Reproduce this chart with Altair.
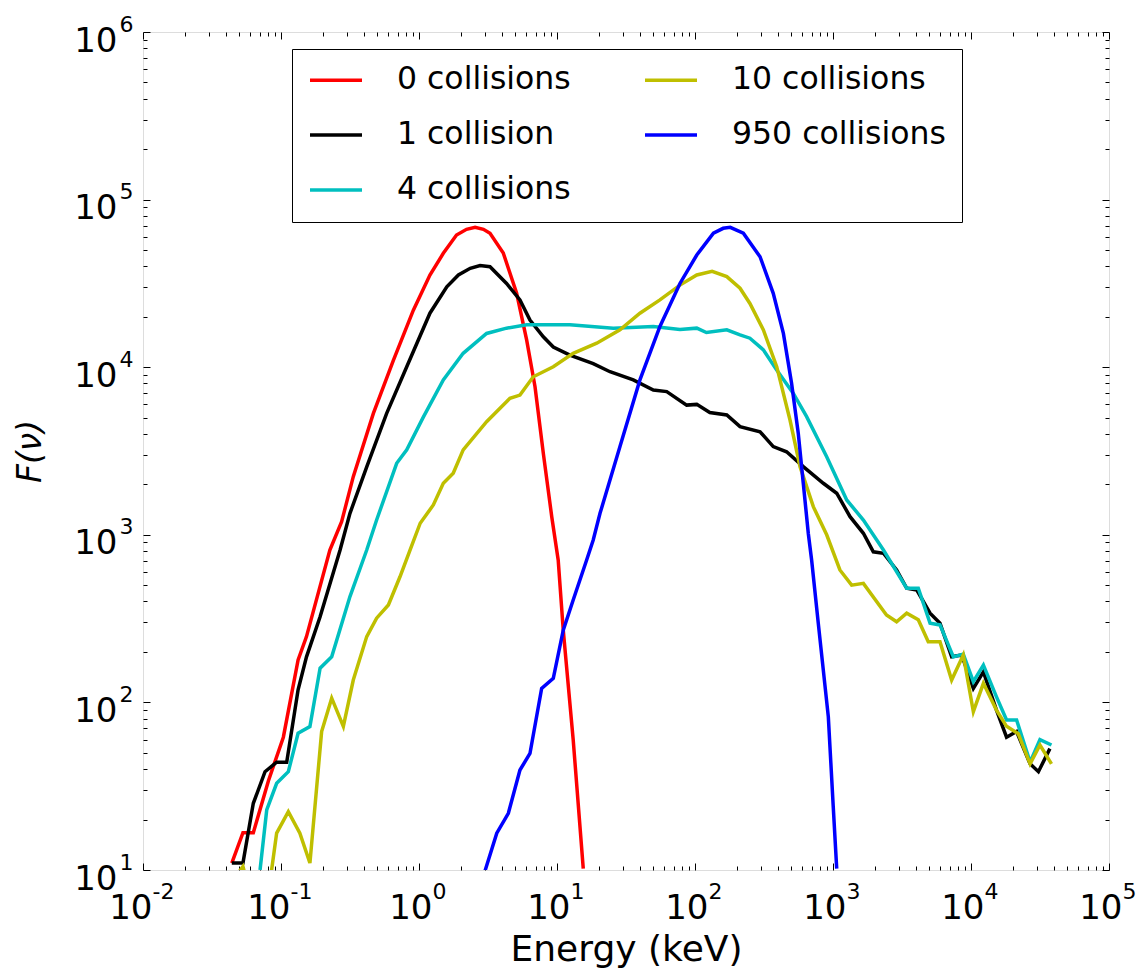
import math
import altair as alt
import pandas as pd

# ---------------- data ----------------
series_names = ["0 collisions", "1 collision", "4 collisions", "10 collisions", "950 collisions"]
series_colors = ["#ff0000", "#000000", "#00bfbf", "#bfbf00", "#0000ff"]

e_c0 = [0.044, 0.053, 0.063, 0.081, 0.104, 0.133, 0.153, 0.226, 0.275, 0.334, 0.467, 0.652,
        0.91, 1.20, 1.50, 1.87, 2.21, 2.55, 2.93, 3.27, 4.08, 5.1, 6.03, 6.93, 7.96, 9.16,
        10.2, 11.1, 13.1, 15.5]
f_c0 = [11, 16.7, 16.7, 34, 62, 179, 247, 811, 1197, 2222, 5300, 11000,
        21900, 35500, 47800, 61500, 66500, 68300, 66500, 63000, 48000, 27600, 14500, 7650, 3060, 1283,
        708, 270, 60, 10.2]

e_c1 = [0.044, 0.053, 0.063, 0.0766, 0.093, 0.11, 0.133, 0.153, 0.192, 0.268, 0.316, 0.418,
        0.583, 0.815, 1.2, 1.59, 1.93, 2.35, 2.77, 3.27, 4.31, 5.39, 6.37, 7.96, 9.4, 12.4,
        18.3, 24.2, 35.7, 49.9, 62.4, 87, 103, 128, 170, 212, 296, 369, 461, 609, 851, 1064,
        1329, 1660, 1960, 2320, 2890, 3420, 4040, 5050, 5960, 7240, 8560, 10400, 12300,
        15300, 18100, 21400, 26800, 30800, 37300]
f_c1 = [11, 11, 25, 38.6, 44, 44, 119, 187, 324, 811, 1343, 2545,
        5300, 10070, 21000, 30200, 35500, 38900, 40400, 39800, 31600, 25200, 19100, 15200, 13200, 11800,
        10500, 9400, 8400, 7310, 7150, 5940, 6000, 5360, 5190, 4420, 4120, 3360, 3130, 2550, 2030, 1770,
        1283, 1021, 792, 776, 617, 480, 469, 341, 297, 187, 192, 121, 152,
        90, 62, 67, 43, 38.6, 53]

e_c4 = [0.0705, 0.0788, 0.093, 0.113, 0.133, 0.162, 0.192, 0.233, 0.316, 0.418, 0.493, 0.689,
        0.815, 1.07, 1.50, 2.09, 3.09, 4.31, 6.03, 12.4, 25.6, 49.9, 77.8, 103, 121, 170, 212,
        250, 313, 391, 516, 644, 900, 1257, 1660, 2320, 3420, 4150, 5050, 5960, 7450, 8790,
        10400, 12300, 15300, 18100, 21400, 26800, 31600, 38300]
f_c4 = [10, 22.8, 32.9, 38.6, 65.5, 71.7, 160, 187, 428, 811, 1225, 2670,
        3210, 5000, 8400, 12100, 15900, 17100, 17900, 17900, 17100, 17500, 16800, 17100, 16100, 16700, 15600,
        14900, 12700, 9610, 6980, 5070, 2920, 1614, 1225, 811, 480, 480, 297, 290, 187, 194,
        133, 167, 108, 78.5, 78.5, 44, 60, 55.7]

e_c10 = [0.044, 0.053, 0.063, 0.077, 0.0855, 0.093, 0.113, 0.137, 0.162, 0.197, 0.233, 0.283,
         0.334, 0.418, 0.493, 0.600, 0.728, 0.861, 1.02, 1.27, 1.50, 1.77, 2.09, 3.09, 4.56,
         5.39, 6.73, 9.4, 13.1, 19.4, 28.6, 39.9, 55.7, 77.8, 103, 133, 170, 212, 250, 313,
         391, 488, 577, 720, 900, 1122, 1365, 1660, 2440, 2890, 3420, 4150, 4900, 5960, 7240,
         8790, 10400, 12300, 15300, 18100, 22000, 26800, 31600, 38300]
f_c10 = [8.5, 10.5, 6, 5, 10, 16.6, 22.3, 16.6, 11, 67, 106, 72,
         136, 247, 318, 381, 562, 811, 1172, 1507, 2030, 2330, 3210, 4730, 6520,
         6820, 8770, 10070, 12100, 13900, 16700, 21000, 25200, 30900, 35500, 37300, 34700, 29600, 24000, 16700,
         10070, 4840, 2550, 1472, 1000, 617, 501, 513, 332, 303, 341, 311, 230, 230, 136,
         192, 88, 130, 90, 72, 65, 43, 55.7, 43]

e_c950 = [3.0, 3.66, 4.44, 5.39, 6.37, 7.74, 9.4, 11.1, 13.1, 16.4, 18.3, 20.5, 28.6, 39.9,
          55.7, 77.8, 103, 136, 160, 180, 224, 296, 369, 437, 501, 560, 609, 662, 700, 782,
          925, 1004, 1064]
f_c950 = [9.8, 16.6, 21.8, 39.5, 49.6, 121, 139, 270, 408, 708, 931, 1343, 3360, 8400,
          17500, 31600, 46700, 63000, 67400, 68300, 63000, 45600, 27600, 15900, 8020, 4040, 2030, 1021, 708, 297,
          82, 23.9, 10.2]

x_major = [0.01, 0.1, 1, 10, 100, 1000, 10000, 100000]
y_major = [10, 100, 1000, 10000, 100000, 1000000]

# ---------------- table ----------------
rows = []
for name, es, fs in zip(series_names,
                        [e_c0, e_c1, e_c4, e_c10, e_c950],
                        [f_c0, f_c1, f_c4, f_c10, f_c950]):
    for e, f in zip(es, fs):
        rows.append({"series": name, "energy": e, "flux": f})
df = pd.DataFrame(rows)

# tick positions: decades and their 2..9 multiples
x_minor = [m * v for v in x_major[:-1] for m in range(2, 10)]
y_minor = [m * v for v in y_major[:-1] for m in range(2, 10)]
x_ticks = x_major + x_minor
y_ticks = y_major + y_minor


def exponent_expr(values):
    expr = "''"
    for v in reversed(values):
        k = int(round(math.log10(v)))
        expr = f"round(log(datum.value)/LN10) == {k} ? '{k}' : ({expr})"
    return expr


W, H = 966, 838
FONT = "DejaVu Sans"
BASE_FS = 34
EXP_FS = 22

xscale = alt.Scale(type="log", domain=[0.01, 100000], nice=False)
yscale = alt.Scale(type="log", domain=[10, 1000000], nice=False)

major_test = "abs(log(datum.value)/LN10 - round(log(datum.value)/LN10)) < 0.001"
tick_size = {"condition": {"test": major_test, "value": 7}, "value": 4}
# horizontal shift of the "10" / exponent split point (wider label for negative exponents)
x_label_shift = {"condition": {"test": "datum.value < 1", "value": 9}, "value": 13}

base = alt.Chart(df)

lines = base.mark_line(strokeWidth=3.5, clip=True).encode(
    x=alt.X("energy:Q", scale=xscale,
            axis=alt.Axis(orient="bottom", values=x_major, labelExpr="'10'",
                          ticks=False, domain=False, grid=False, labelFont=FONT, labelFontSize=BASE_FS,
                          labelColor="black", labelPadding=48, labelBaseline="alphabetic",
                          labelAlign="right", labelOffset=x_label_shift, labelFlush=False,
                          labelOverlap=False,
                          title="Energy (keV)", titleFont=FONT, titleFontSize=36, titleFontWeight="normal",
                          titleColor="black", titleX=W / 2, titleY=90, titleBaseline="alphabetic",
                          titleAnchor="middle")),
    y=alt.Y("flux:Q", scale=yscale,
            axis=alt.Axis(orient="left", values=y_major, labelExpr="'10'",
                          ticks=False, domain=False, grid=False, labelFont=FONT, labelFontSize=BASE_FS,
                          labelColor="black", labelPadding=26, labelFlush=False, labelOverlap=False,
                          labelBaseline="alphabetic", labelOffset=19, labelAlign="right",
                          title="F(ν)", titleFont=FONT, titleFontSize=33, titleFontStyle="italic",
                          titleFontWeight="normal", titleColor="black", titleAngle=270,
                          titleX=-113, titleY=H / 2, titleBaseline="middle", titleAlign="center")),
    color=alt.Color("series:N",
                    scale=alt.Scale(domain=series_names, range=series_colors),
                    legend=alt.Legend(title=None, orient="none", legendX=149, legendY=17, columns=2,
                                      symbolType="stroke", symbolSize=2704, symbolStrokeWidth=3.5,
                                      clipHeight=30, labelFont=FONT, labelFontSize=31.5, labelColor="black",
                                      labelLimit=400, labelOffset=33, rowPadding=23, columnPadding=72,
                                      padding=16, strokeColor="black", fillColor="white",
                                      cornerRadius=0)),
)

# exponents of the power-of-ten tick labels, set as raised superscripts
exponents = base.mark_line(opacity=0).encode(
    x=alt.X("energy:Q", scale=xscale,
            axis=alt.Axis(orient="bottom", values=x_major, labelExpr=exponent_expr(x_major),
                          ticks=False, domain=False, grid=False, labelFont=FONT, labelFontSize=EXP_FS,
                          labelColor="black", labelPadding=28, labelBaseline="alphabetic",
                          labelAlign="left", labelOffset=x_label_shift, labelFlush=False,
                          labelOverlap=False, title=None)),
    y=alt.Y("flux:Q", scale=yscale,
            axis=alt.Axis(orient="left", values=y_major, labelExpr=exponent_expr(y_major),
                          ticks=False, domain=False, grid=False, labelFont=FONT, labelFontSize=EXP_FS,
                          labelColor="black", labelPadding=10, labelFlush=False, labelOverlap=False,
                          labelBaseline="alphabetic", labelOffset=-1, labelAlign="right", title=None)),
)


def tick_layer(x_orient, y_orient):
    return base.mark_line(opacity=0).encode(
        x=alt.X("energy:Q", scale=xscale,
                axis=alt.Axis(orient=x_orient, offset=-H, values=x_ticks, labels=False, domain=False,
                              grid=False, ticks=True, tickSize=tick_size, tickColor="black",
                              tickWidth=1, title=None)),
        y=alt.Y("flux:Q", scale=yscale,
                axis=alt.Axis(orient=y_orient, offset=-W, values=y_ticks, labels=False, domain=False,
                              grid=False, ticks=True, tickSize=tick_size, tickColor="black",
                              tickWidth=1, title=None)),
    )


chart = alt.layer(
    lines,
    exponents,
    tick_layer("top", "right"),
    tick_layer("bottom", "left"),
).resolve_axis(x="independent", y="independent").properties(
    width=W, height=H,
    autosize=alt.AutoSizeParams(type="none"),
    padding={"left": 143, "top": 32, "right": 37, "bottom": 102},
).configure_view(stroke="black", strokeWidth=1.5).configure(background="white")

chart.save("out.html", embed_options={"renderer": "svg", "actions": False})
